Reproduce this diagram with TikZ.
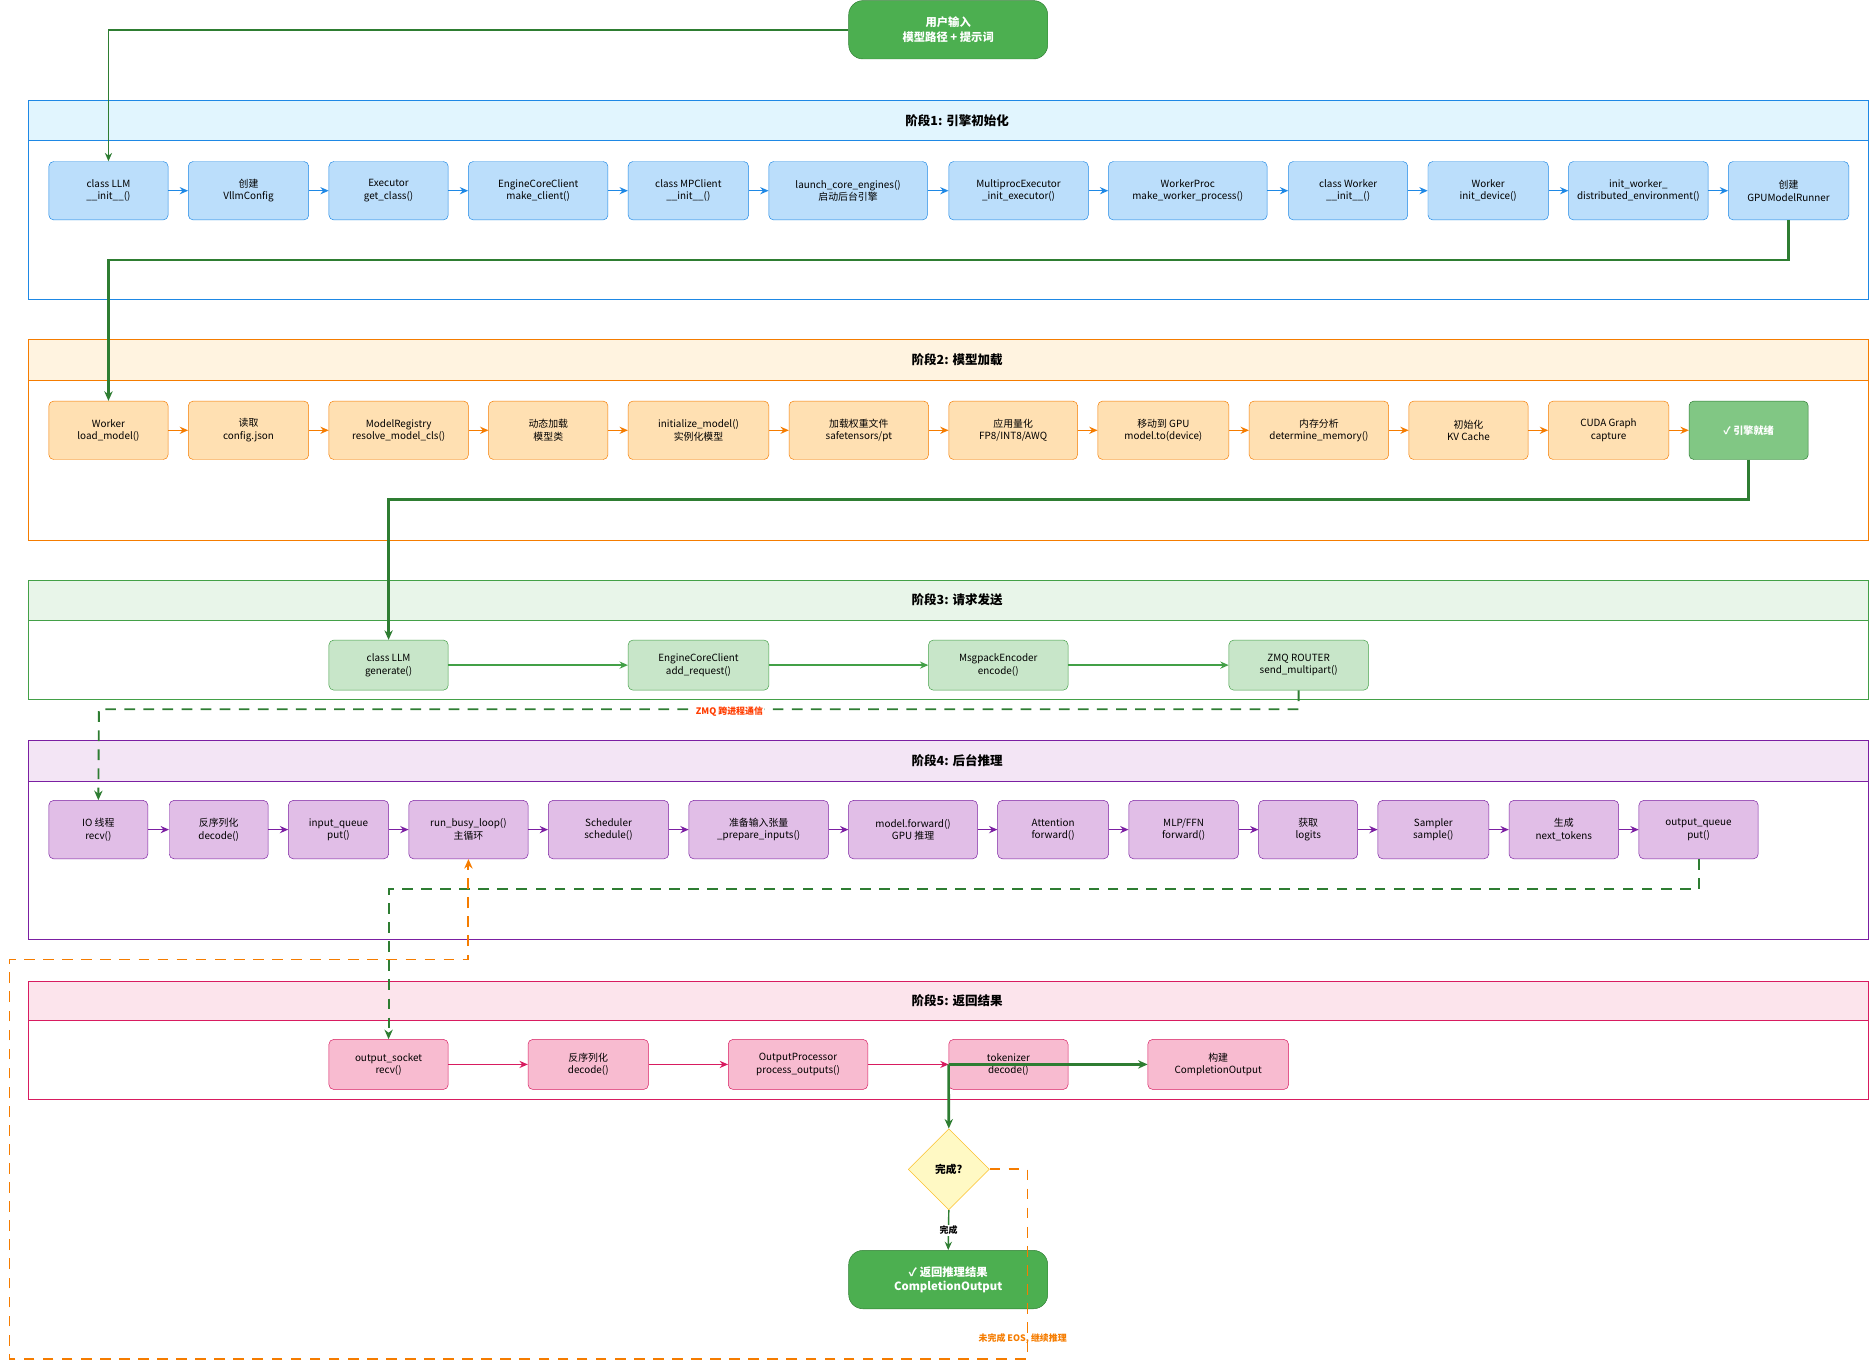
\documentclass[tikz,border=0pt]{standalone}
\usepackage{fontspec}
\setmainfont{Noto Sans CJK SC}
\usetikzlibrary{arrows.meta,shapes.geometric}
\definecolor{gfill}{HTML}{4CAF50}\definecolor{gdraw}{HTML}{2E7D32}
\definecolor{bhead}{HTML}{E1F5FE}\definecolor{bfill}{HTML}{BBDEFB}\definecolor{bdraw}{HTML}{1E88E5}
\definecolor{ohead}{HTML}{FFF3E0}\definecolor{ofill}{HTML}{FFE0B2}\definecolor{odraw}{HTML}{F57C00}
\definecolor{lhead}{HTML}{E8F5E9}\definecolor{lfill}{HTML}{C8E6C9}\definecolor{ldraw}{HTML}{43A047}
\definecolor{phead}{HTML}{F3E5F5}\definecolor{pfill}{HTML}{E1BEE7}\definecolor{pdraw}{HTML}{7B1FA2}
\definecolor{rhead}{HTML}{FCE4EC}\definecolor{rfill}{HTML}{F8BBD0}\definecolor{rdraw}{HTML}{D81B60}
\definecolor{yfill}{HTML}{FFF9C4}\definecolor{ydraw}{HTML}{FBC02D}
\definecolor{readyfill}{HTML}{81C784}
\definecolor{loopc}{HTML}{F57C00}\definecolor{zmqc}{HTML}{FF3D00}
\tikzset{
  box/.style={rounded corners=4, align=center, minimum height=49, inner sep=1, font=\fontsize{8.3}{10.5}\selectfont},
  b1/.style={box, fill=bfill, draw=bdraw},
  b2/.style={box, fill=ofill, draw=odraw},
  b3/.style={box, fill=lfill, draw=ldraw, minimum height=42},
  b4/.style={box, fill=pfill, draw=pdraw},
  b5/.style={box, fill=rfill, draw=rdraw, minimum height=42},
  big/.style={rounded corners=12, fill=gfill, draw=gdraw, align=center, text=white, font=\fontsize{9.5}{12}\selectfont\bfseries, minimum width=167, minimum height=49},
  arr/.style={-{Stealth[length=7pt,width=6pt]}, line width=1.2},
  flow/.style={-{Stealth[length=8pt,width=7pt]}, draw=gdraw, line width=2.2},
  dashed flow/.style={-{Stealth[length=8pt,width=7pt]}, line width=1.6, dash pattern=on 9pt off 7pt},
  head/.style={font=\fontsize{10.5}{12}\selectfont\bfseries}
}
\begin{document}
\begin{tikzpicture}[x=1pt,y=-1pt]
\useasboundingbox (0,0) rectangle (1568,1150);
% stage frames
\foreach \ya/\yb/\yc/\hc/\dc/\t in {84/118/251/bhead/bdraw/{阶段1: 引擎初始化},
    285/319/453/ohead/odraw/{阶段2: 模型加载},
    487/520/587/lhead/ldraw/{阶段3: 请求发送},
    621/655/788/phead/pdraw/{阶段4: 后台推理},
    823/856/922/rhead/rdraw/{阶段5: 返回结果}} {
  \draw[draw=\dc, fill=white] (24,\ya) rectangle (1567,\yc);
  \draw[draw=\dc, fill=\hc] (24,\ya) rectangle (1567,\yb);
  \node[head] at (803,{(\ya+\yb)/2}) {\t};
}

\node[big] (start) at (795.5,25) {用户输入\\模型路径 + 提示词};

% stage 1
\foreach \xa/\xb/\t [count=\i] in {41/141/{class LLM\\\_\_init\_\_()}, 158/259/{创建\\VllmConfig},
    276/376/{Executor\\get\_class()}, 393/510/{EngineCoreClient\\make\_client()},
    527/628/{class MPClient\\\_\_init\_\_()}, 645/778/{launch\_core\_engines()\\启动后台引擎},
    796/913/{MultiprocExecutor\\\_init\_executor()}, 930/1063/{WorkerProc\\make\_worker\_process()},
    1081/1181/{class Worker\\\_\_init\_\_()}, 1198/1299/{Worker\\init\_device()},
    1316/1433/{init\_worker\_\\distributed\_environment()}, 1450/1551/{创建\\GPUModelRunner}}
  \node[b1, minimum width={(\xb-\xa)*1pt}] (s1n\i) at ({(\xa+\xb)/2},160) {\t};
\foreach \i [remember=\i as \j (initially 1)] in {2,...,12}
  \draw[arr, bdraw] (s1n\j) -- (s1n\i);

% stage 2
\foreach \xa/\xb/\t [count=\i] in {41/141/{Worker\\load\_model()}, 158/259/{读取\\config.json},
    276/393/{ModelRegistry\\resolve\_model\_cls()}, 410/510/{动态加载\\模型类},
    527/645/{initialize\_model()\\实例化模型}, 662/779/{加载权重文件\\safetensors/pt},
    796/904/{应用量化\\FP8/INT8/AWQ}, 921/1031/{移动到 GPU\\model.to(device)},
    1048/1165/{内存分析\\determine\_memory()}, 1182/1282/{初始化\\KV Cache},
    1299/1400/{CUDA Graph\\capture}}
  \node[b2, minimum width={(\xb-\xa)*1pt}] (s2n\i) at ({(\xa+\xb)/2},361) {\t};
\node[box, fill=readyfill, draw=gdraw, text=white, font=\fontsize{8.5}{10}\selectfont\bfseries, minimum width=100] (s2n12) at (1467,361) {✓ 引擎就绪};
\foreach \i [remember=\i as \j (initially 1)] in {2,...,12}
  \draw[arr, odraw] (s2n\j) -- (s2n\i);

% stage 3
\foreach \xa/\xb/\t [count=\i] in {276/376/{class LLM\\generate()}, 527/645/{EngineCoreClient\\add\_request()},
    779/896/{MsgpackEncoder\\encode()}, 1031/1148/{ZMQ ROUTER\\send\_multipart()}}
  \node[b3, minimum width={(\xb-\xa)*1pt}] (s3n\i) at ({(\xa+\xb)/2},558) {\t};
\foreach \i [remember=\i as \j (initially 1)] in {2,...,4}
  \draw[arr, ldraw] (s3n\j) -- (s3n\i);

% stage 4
\foreach \xa/\xb/\t [count=\i] in {41/124/{IO 线程\\recv()}, 142/225/{反序列化\\decode()},
    242/326/{input\_queue\\put()}, 343/443/{run\_busy\_loop()\\主循环},
    460/561/{Scheduler\\schedule()}, 578/695/{准备输入张量\\\_prepare\_inputs()},
    712/820/{model.forward()\\GPU 推理}, 837/930/{Attention\\forward()},
    947/1039/{MLP/FFN\\forward()}, 1056/1139/{获取\\logits},
    1156/1249/{Sampler\\sample()}, 1266/1358/{生成\\next\_tokens},
    1375/1475/{output\_queue\\put()}}
  \node[b4, minimum width={(\xb-\xa)*1pt}] (s4n\i) at ({(\xa+\xb)/2},696) {\t};
\foreach \i [remember=\i as \j (initially 1)] in {2,...,13}
  \draw[arr, pdraw] (s4n\j) -- (s4n\i);

% stage 5
\foreach \xa/\xb/\t [count=\i] in {276/376/{output\_socket\\recv()}, 443/544/{反序列化\\decode()},
    611/728/{OutputProcessor\\process\_outputs()}, 796/896/{tokenizer\\decode()},
    963/1081/{构建\\CompletionOutput}}
  \node[b5, minimum width={(\xb-\xa)*1pt}] (s5n\i) at ({(\xa+\xb)/2},893) {\t};
\foreach \i [remember=\i as \j (initially 1)] in {2,...,4}
  \draw[arr, rdraw] (s5n\j) -- (s5n\i);

\node[diamond, fill=yfill, draw=ydraw, minimum width=68, minimum height=68, inner sep=0, font=\fontsize{9}{10}\selectfont\bfseries] (done) at (796,981) {完成?};
\node[big] (result) at (795.5,1073.5) {✓ 返回推理结果\\CompletionOutput};

% connectors
\draw[-{Stealth[length=7pt,width=6pt]}, draw=gdraw, line width=1.2] (start.west) -| (s1n1.north);
\draw[flow] (s1n12.south) |- (91,218) -- (s2n1.north);
\draw[flow] (s2n12.south) |- (326,419) -- (s3n1.north);
\draw[flow] (s5n4.west) -- (s5n5.west);
\draw[flow] (s5n4.west) -- (done.north);
\draw[arr, gdraw] (done.south) -- node[fill=white, inner sep=1, font=\fontsize{7.5}{9}\selectfont\bfseries, text=black] {完成} (result.north);
\draw[dashed flow, gdraw] (s3n4.south) |- (83,595) -- (s4n1.north);
\node[text=zmqc, font=\fontsize{7.5}{9}\selectfont\bfseries, fill=white, inner sep=0.5] (zlbl) at (612,597) {ZMQ 跨进程通信};
\draw[dashed flow, gdraw] (s4n13.south) |- (326,746) -- (s5n1.north);
\draw[dashed flow, draw=loopc, -{Stealth[length=8pt,width=7pt,color=loopc]}] (done.east) -| (862,1140) -| (8,805) -| (s4n4.south);
\node[text=loopc, font=\fontsize{7.5}{9}\selectfont\bfseries] (llbl) at (858,1123) {未完成 EOS, 继续推理};
\end{tikzpicture}
\end{document}
